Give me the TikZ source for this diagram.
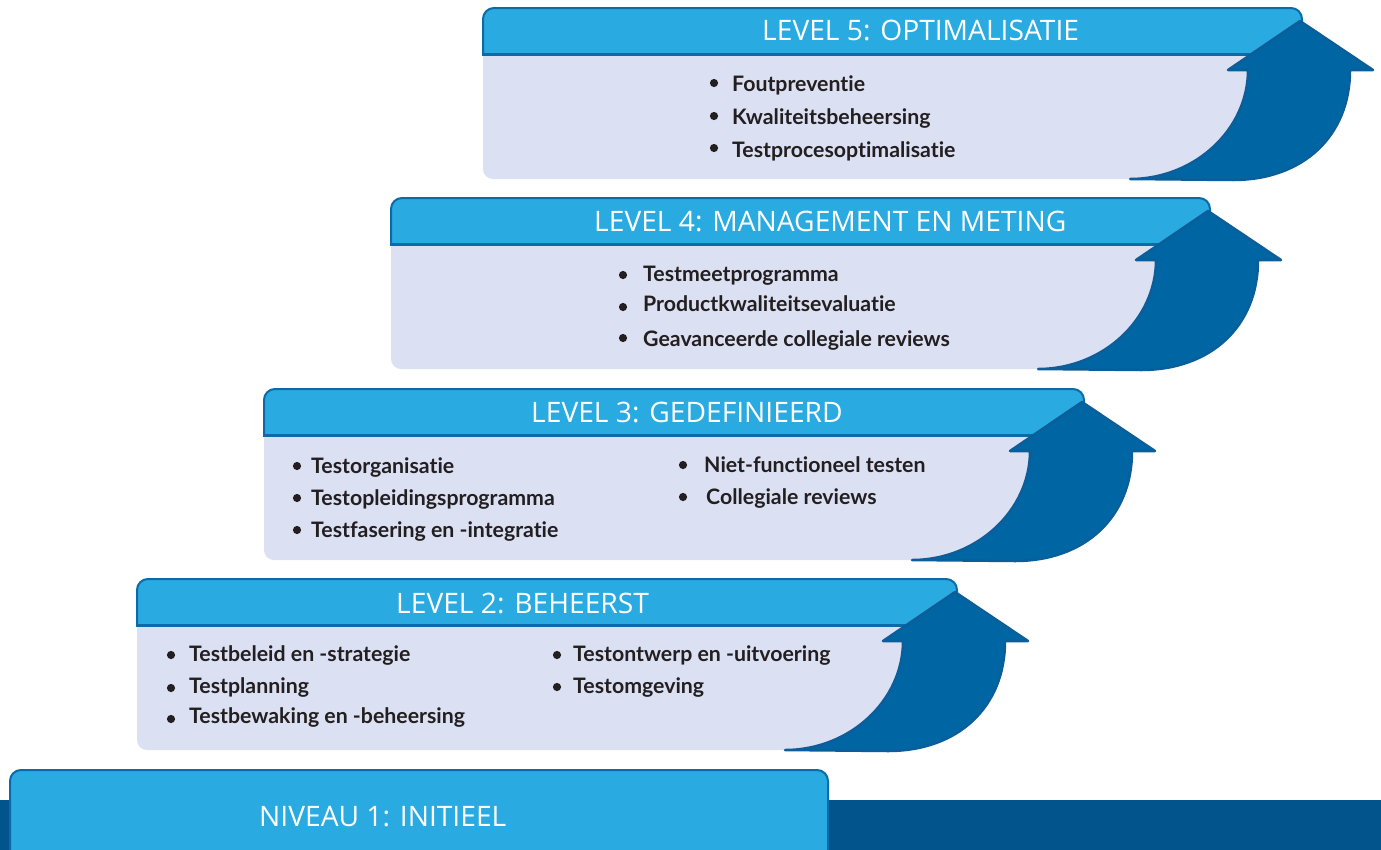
\documentclass[tikz,border=0pt]{standalone}
\usepackage{fontspec}
\setmainfont{Lato}[Ligatures=NoCommon]
\newfontfamily\hfont{Open Sans}
\definecolor{hdrfill}{HTML}{29AAE1}
\definecolor{hdrline}{HTML}{0B6BA8}
\definecolor{arrfill}{HTML}{0066A3}
\definecolor{arrline}{HTML}{0C5E9A}
\definecolor{bodyfill}{HTML}{DBE0F2}
\definecolor{bandc}{HTML}{01558C}
\definecolor{txtc}{HTML}{231F20}
\tikzset{
  htxt/.style={anchor=base west, inner sep=0pt, text=white, font=\hfont\fontsize{28.2}{33}\selectfont},
  itm/.style={anchor=base west, inner sep=0pt, text=txtc, font=\fontsize{21.3}{25}\selectfont\bfseries},
  hdrbox/.style={fill=hdrfill, draw=hdrline, line width=2pt, rounded corners=11pt},
  arrowshape/.style={fill=arrfill, draw=arrline, line width=2.5pt, line join=round},
  bdot/.style={fill=txtc},
}
% #1 = left x, #2 = top y, #3 = arrow tip x
\newcommand{\levelshape}[3]{%
  \fill[bodyfill, rounded corners=10pt] ({#3-40},{#2+40}) -- (#1,{#2+40}) -- (#1,{#2+171}) -- ({#3-170},{#2+171})
     .. controls ({#3-170+0.55*118},{#2+171}) and ({#3-52},{#2+62+0.55*108}) .. ({#3-52},{#2+62}) -- cycle;
  \filldraw[hdrbox] (#1,{#2+47}) -- (#1,#2) -- ({#3+2},#2) -- ({#3+2},{#2+47});
  \draw[hdrline, line width=3pt] ({#1-1},{#2+46.5}) -- ({#3},{#2+46.5});
  \filldraw[arrowshape] (#3,{#2+13}) -- ({#3+73},{#2+62}) -- ({#3+50},{#2+62})
     .. controls ({#3+50},{#2+62+0.6*110}) and ({#3-67+0.6*117},{#2+172}) .. ({#3-67},{#2+172})
     -- ({#3-170},{#2+171})
     .. controls ({#3-170+0.55*118},{#2+171}) and ({#3-52},{#2+62+0.55*108}) .. ({#3-52},{#2+62})
     -- ({#3-72},{#2+62}) -- cycle;
}
\begin{document}
\begin{tikzpicture}[x=1pt,y=-1pt]
\useasboundingbox (0,0) rectangle (1381,849);
\fill[white] (0,0) rectangle (1381,849);

% level 1 + band
\fill[bandc] (0,800) rectangle (1381,850);
\filldraw[hdrbox] (10,851) -- (10,770) -- (828,770) -- (828,851);
\node[htxt] (h1) at (259,826) {NIVEAU 1: INITIEEL};

% level 2
\levelshape{137}{579}{955}
\node[htxt] (h2) at (396,613) {LEVEL 2: BEHEERST};
\fill[bdot] (171,655) circle (4.1);
\node[itm] (i2a) at (189,661) {Testbeleid en -strategie};
\fill[bdot] (171,688) circle (4.1);
\node[itm] (i2b) at (189,693) {Testplanning};
\fill[bdot] (171,719) circle (4.1);
\node[itm] (i2c) at (189,723) {Testbewaking en -beheersing};
\fill[bdot] (557,655) circle (4.1);
\node[itm] (i2d) at (573,661) {Testontwerp en -uitvoering};
\fill[bdot] (557,687) circle (4.1);
\node[itm] (i2e) at (573,693) {Testomgeving};

% level 3
\levelshape{264}{389}{1082}
\node[htxt] (h3) at (531,422) {LEVEL 3: GEDEFINIEERD};
\fill[bdot] (297,466) circle (4.1);
\node[itm] (i3a) at (311,473) {Testorganisatie};
\fill[bdot] (297,498) circle (4.1);
\node[itm] (i3b) at (311,505) {Testopleidingsprogramma};
\fill[bdot] (297,530) circle (4.1);
\node[itm] (i3c) at (311,537) {Testfasering en -integratie};
\fill[bdot] (683,465) circle (4.1);
\node[itm] (i3d) at (704,472) {Niet-functioneel testen};
\fill[bdot] (683,497) circle (4.1);
\node[itm] (i3e) at (706,504) {Collegiale reviews};

% level 4
\levelshape{391}{198}{1208}
\node[htxt] (h4) at (594,231) {LEVEL 4: MANAGEMENT EN METING};
\fill[bdot] (623,275) circle (4.1);
\node[itm] (i4a) at (643,281) {Testmeetprogramma};
\fill[bdot] (623,307) circle (4.1);
\node[itm] (i4b) at (643,311) {Productkwaliteitsevaluatie};
\fill[bdot] (623,338) circle (4.1);
\node[itm] (i4c) at (643,346) {Geavanceerde collegiale reviews};

% level 5
\levelshape{483}{8}{1300}
\node[htxt] (h5) at (762,40) {LEVEL 5: OPTIMALISATIE};
\fill[bdot] (714,83) circle (4.1);
\node[itm] (i5a) at (732,91) {Foutpreventie};
\fill[bdot] (714,116) circle (4.1);
\node[itm] (i5b) at (732,124) {Kwaliteitsbeheersing};
\fill[bdot] (714,148) circle (4.1);
\node[itm] (i5c) at (732,157) {Testprocesoptimalisatie};
\end{tikzpicture}
\end{document}
